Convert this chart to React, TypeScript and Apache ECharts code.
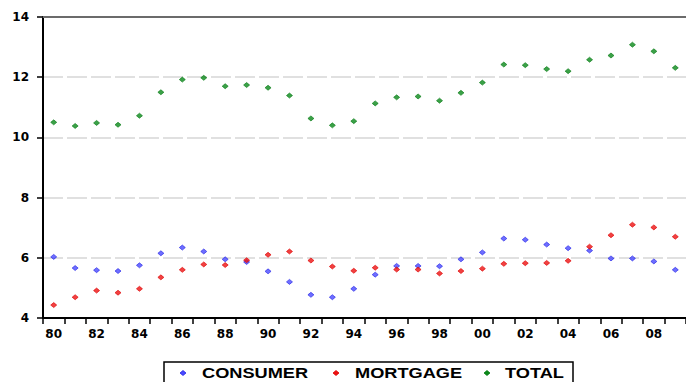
import React, { useEffect, useRef } from "react";
import * as echarts from "echarts";

// Years 1980–2009, shown as two-digit labels
const years = [
  "80", "81", "82", "83", "84", "85", "86", "87", "88", "89",
  "90", "91", "92", "93", "94", "95", "96", "97", "98", "99",
  "00", "01", "02", "03", "04", "05", "06", "07", "08", "09",
];

const consumer = [
  6.03, 5.66, 5.59, 5.56, 5.75, 6.15, 6.34, 6.21, 5.95, 5.86,
  5.55, 5.2, 4.77, 4.69, 4.97, 5.44, 5.73, 5.73, 5.72, 5.95,
  6.18, 6.64, 6.6, 6.44, 6.32, 6.24, 5.98, 5.98, 5.88, 5.6,
];

const mortgage = [
  4.43, 4.69, 4.91, 4.84, 4.97, 5.35, 5.6, 5.78, 5.76, 5.92,
  6.1, 6.21, 5.91, 5.71, 5.57, 5.67, 5.61, 5.61, 5.48, 5.56,
  5.64, 5.8, 5.82, 5.83, 5.9, 6.37, 6.75, 7.1, 7.01, 6.7,
];

const total = [
  10.5, 10.38, 10.48, 10.42, 10.72, 11.5, 11.92, 11.98, 11.7, 11.74,
  11.65, 11.39, 10.63, 10.4, 10.54, 11.13, 11.33, 11.36, 11.22, 11.48,
  11.82, 12.42, 12.4, 12.27, 12.2, 12.58, 12.72, 13.08, 12.86, 12.31,
];

const seriesNames = ["CONSUMER", "MORTGAGE", "TOTAL"];
const seriesColors = ["#4a4aff", "#ee1111", "#0a8a1a"];
const seriesBorders = ["#2323e6", "#dd0000", "#067a12"];
const seriesData = [consumer, mortgage, total];

const yMin = 4;
const yMax = 14;
const yStep = 2;

// Boxed legend along the bottom edge
const legendMarkerX = [183, 336, 487];
const legendTextX = [202, 355, 505];
const legendY = 373;

function diamond(cx: number, cy: number, hw: number, hh: number) {
  return [
    [cx, cy - hh],
    [cx + hw, cy],
    [cx, cy + hh],
    [cx - hw, cy],
  ];
}

export default function App() {
  const ref = useRef<HTMLDivElement>(null);

  useEffect(() => {
    if (!ref.current) return;
    const chart = echarts.init(ref.current, null, { renderer: "svg" });

    const legendElements: any[] = [
      {
        type: "rect",
        shape: { x: 164, y: 362, width: 409, height: 30 },
        style: { fill: "#fff", stroke: "#000", lineWidth: 1.5 },
        z: 10,
      },
    ];
    seriesNames.forEach((name, i) => {
      legendElements.push({
        type: "polygon",
        shape: { points: diamond(legendMarkerX[i], legendY, 3, 2.5) },
        style: { fill: seriesColors[i], stroke: seriesBorders[i], lineWidth: 0.8 },
        z: 11,
      });
      legendElements.push({
        type: "text",
        x: legendTextX[i],
        y: legendY,
        scaleX: 1.3,
        style: {
          text: name,
          font: 'bold 14px "Liberation Sans", Arial, sans-serif',
          fill: "#000",
          textVerticalAlign: "middle",
          verticalAlign: "middle",
        },
        z: 11,
      });
    });

    const axisFont = {
      fontFamily: '"DejaVu Sans", sans-serif',
      fontWeight: "bold" as const,
      fontSize: 12,
      color: "#000",
    };

    chart.setOption({
      animation: false,
      backgroundColor: "#fff",
      grid: {
        left: 43,
        top: 17,
        width: 649,
        height: 301,
        show: false,
      },
      xAxis: [
        {
          type: "category",
          data: years,
          boundaryGap: true,
          axisLine: { show: true, lineStyle: { color: "#000", width: 2 } },
          axisTick: {
            show: true,
            interval: 0,
            length: 6,
            lineStyle: { color: "#000", width: 1.5 },
          },
          axisLabel: { interval: 1, margin: 10, ...axisFont },
          splitLine: { show: false },
        },
        {
          // plain frame line along the top of the plot
          type: "category",
          position: "top",
          data: years,
          boundaryGap: true,
          axisLine: { show: true, lineStyle: { color: "#6b6b6b", width: 2 } },
          axisTick: { show: false },
          axisLabel: { show: false },
          splitLine: { show: false },
        },
      ],
      yAxis: {
        type: "value",
        min: yMin,
        max: yMax,
        interval: yStep,
        axisLine: { show: true, lineStyle: { color: "#000", width: 2 } },
        axisTick: {
          show: true,
          length: 6,
          lineStyle: { color: "#000", width: 1.5 },
        },
        axisLabel: { margin: 14, ...axisFont },
        splitLine: {
          show: true,
          showMinLine: false,
          showMaxLine: false,
          lineStyle: { color: "#d6d6d6", width: 1.5, type: [20, 4] },
        },
      },
      series: seriesNames.map((name, i) => ({
        name,
        type: "scatter",
        xAxisIndex: 0,
        data: seriesData[i],
        symbol: "diamond",
        symbolSize: [6, 5],
        itemStyle: {
          color: seriesColors[i],
          borderColor: seriesBorders[i],
          borderWidth: 0.8,
        },
      })),
      graphic: legendElements,
    });

    return () => chart.dispose();
  }, []);

  return (
    <div
      ref={ref}
      style={{ position: "fixed", left: 0, top: 0, width: 686, height: 382 }}
    />
  );
}
